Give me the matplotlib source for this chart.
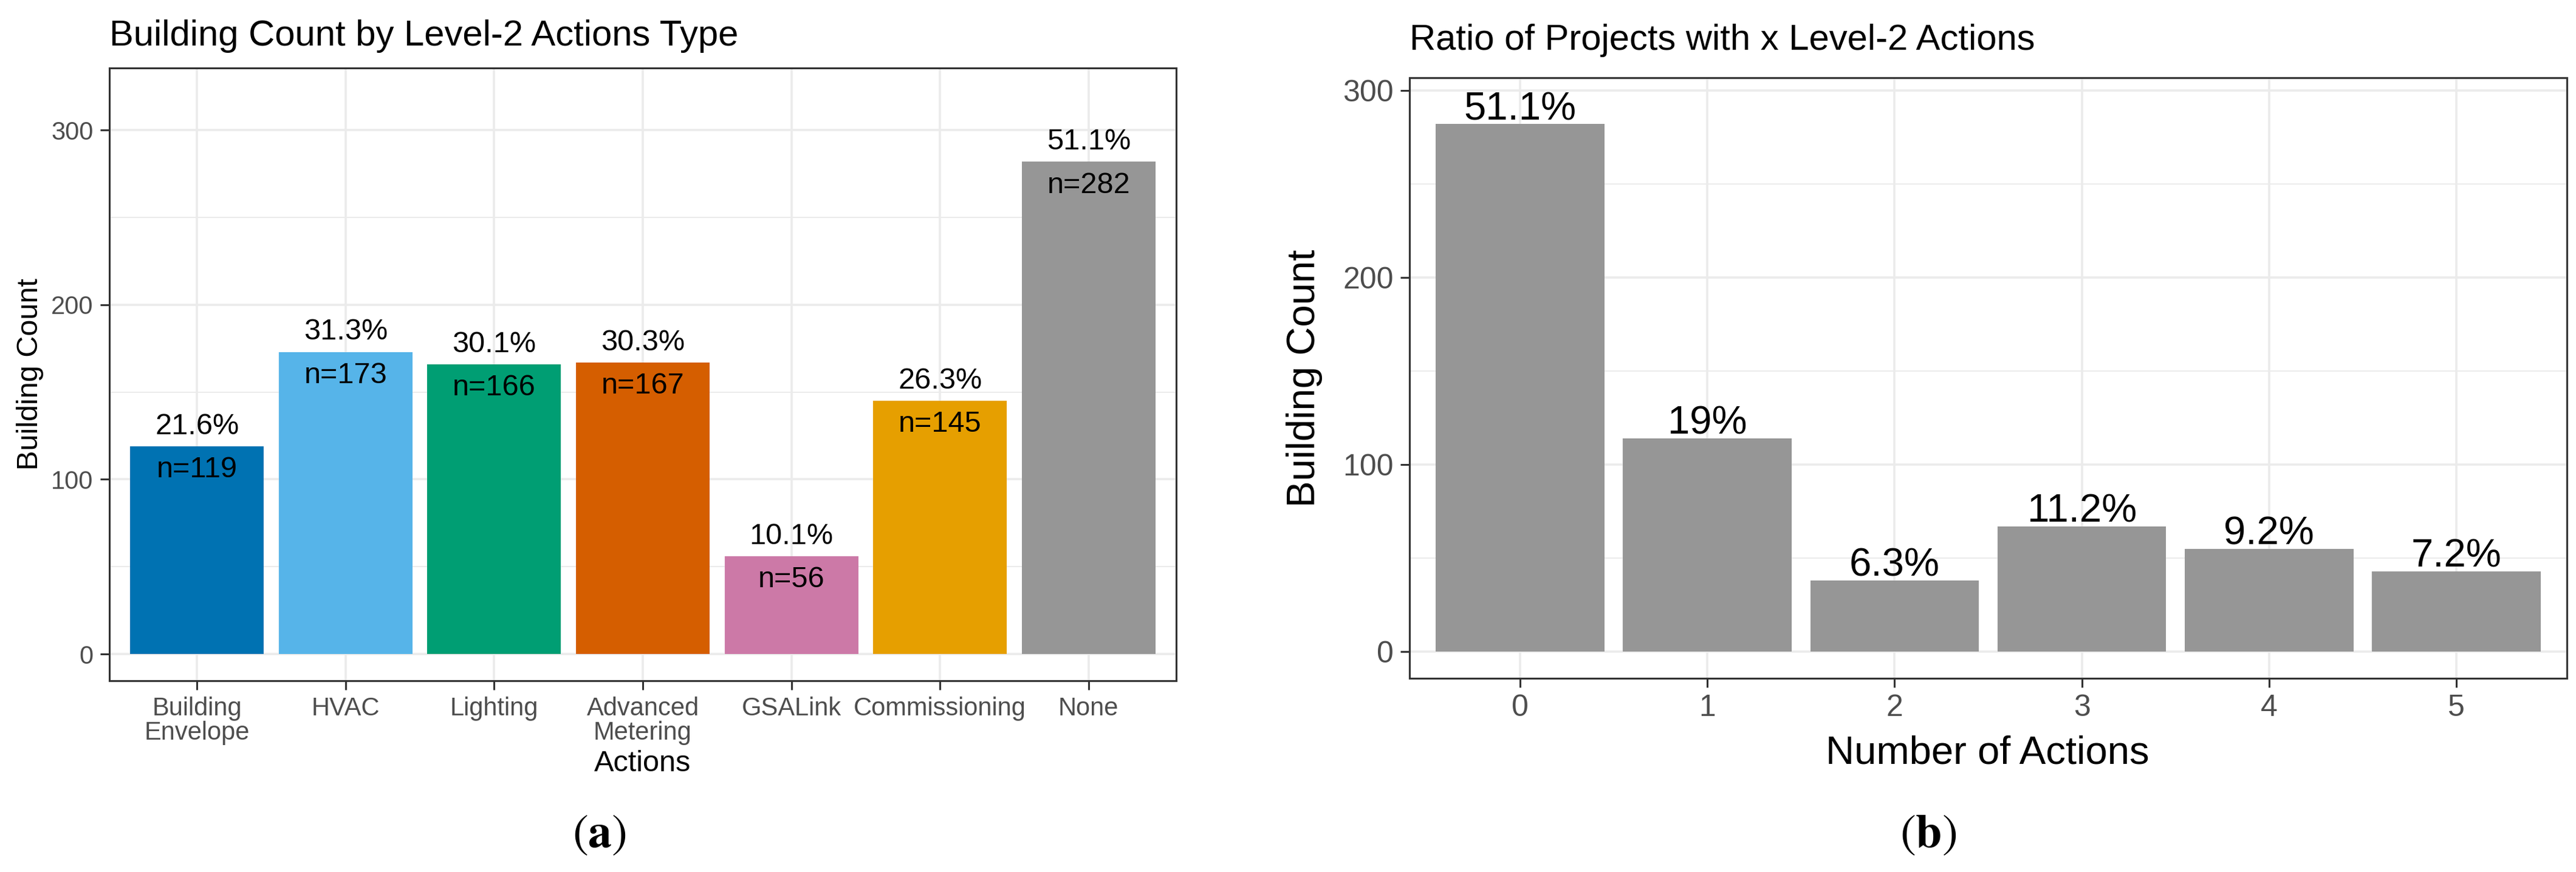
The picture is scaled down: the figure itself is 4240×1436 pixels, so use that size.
import numpy as np
import matplotlib.pyplot as plt
from matplotlib.ticker import MultipleLocator

# data panel (a)
actions = ["Building\nEnvelope", "HVAC", "Lighting", "Advanced\nMetering",
           "GSALink", "Commissioning", "None"]
action_counts = [119, 173, 166, 167, 56, 145, 282]
action_pcts = ["21.6%", "31.3%", "30.1%", "30.3%", "10.1%", "26.3%", "51.1%"]
action_colors = ["#0072B2", "#56B4E9", "#009E73", "#D55E00",
                 "#CC79A7", "#E69F00", "#969696"]

# data panel (b)
n_actions = ["0", "1", "2", "3", "4", "5"]
n_counts = [282, 114, 38, 67, 55, 43]
n_pcts = ["51.1%", "19%", "6.3%", "11.2%", "9.2%", "7.2%"]

plt.rcParams['font.family'] = ['Liberation Sans', 'DejaVu Sans']
plt.rcParams['mathtext.fontset'] = 'stix'

W, H = 4240, 1436
fig = plt.figure(figsize=(W / 100, H / 100), dpi=100)


def ggbw(ax, tick_size):
    ax.set_facecolor('white')
    for s in ax.spines.values():
        s.set_color('#333333')
        s.set_linewidth(2.2)
    ax.yaxis.set_major_locator(MultipleLocator(100))
    ax.yaxis.set_minor_locator(MultipleLocator(50))
    ax.grid(which='major', color='#EBEBEB', linewidth=2.6)
    ax.grid(which='minor', axis='y', color='#EBEBEB', linewidth=1.4)
    ax.tick_params(axis='both', which='major', length=11, width=2.2,
                   color='#333333', labelcolor='#4D4D4D',
                   labelsize=tick_size, pad=8)
    ax.tick_params(axis='y', which='minor', length=0)
    ax.set_axisbelow(True)


# ---- panel (a)
ax1 = fig.add_axes([180 / W, 1 - 1121 / H, (1936 - 180) / W, (1121 - 112) / H])
xa = np.arange(len(actions))
ax1.bar(xa, action_counts, width=0.9, color=action_colors, zorder=2)
ggbw(ax1, 30)
ax1.set_xticks(xa)
ax1.set_xticklabels(actions, linespacing=1.0)
ax1.set_xlim(-0.59, len(actions) - 1 + 0.59)
ax1.set_ylim(-15.3, 335.6)
for x, c, p in zip(xa, action_counts, action_pcts):
    ax1.annotate(p, (x, c), xytext=(0, 23.5), textcoords='offset points',
                 ha='center', va='center', fontsize=35, zorder=3)
    ax1.annotate("n=%d" % c, (x, c), xytext=(0, -28), textcoords='offset points',
                 ha='center', va='center', fontsize=35, zorder=3)

fig.text(180 / W, 1 - 75 / H, "Building Count by Level-2 Actions Type",
         fontsize=43, ha='left', va='baseline')
fig.text(50 / W, 1 - 616 / H, "Building Count", rotation=90,
         fontsize=35, ha='center', va='center')
fig.text(1058 / W, 1 - 1258 / H, "Actions", fontsize=35,
         ha='center', va='center')
fig.text(986 / W, 1 - 1377 / H, r"($\mathbf{a}$)", fontsize=56,
         family='STIXGeneral', ha='center', va='center')

# ---- panel (b)
ax2 = fig.add_axes([2320 / W, 1 - 1117 / H, (4225 - 2320) / W, (1117 - 128) / H])
xb = np.arange(len(n_actions))
ax2.bar(xb, n_counts, width=0.9, color='#969696', zorder=2)
ggbw(ax2, 36)
ax2.set_xticks(xb)
ax2.set_xticklabels(n_actions)
ax2.set_xlim(-0.59, len(n_actions) - 1 + 0.59)
ax2.set_ylim(-14.3, 306.8)
for x, c, p in zip(xb, n_counts, n_pcts):
    ax2.annotate(p, (x, c), xytext=(0, 5), textcoords='offset points',
                 ha='center', va='baseline', fontsize=47, zorder=3)

fig.text(2320 / W, 1 - 82 / H, "Ratio of Projects with x Level-2 Actions",
         fontsize=43, ha='left', va='baseline')
fig.text(2147 / W, 1 - 623 / H, "Building Count", rotation=90,
         fontsize=47, ha='center', va='center')
fig.text(3271 / W, 1 - 1241 / H, "Number of Actions", fontsize=47,
         ha='center', va='center')
fig.text(3174 / W, 1 - 1377 / H, r"($\mathbf{b}$)", fontsize=56,
         family='STIXGeneral', ha='center', va='center')

fig.savefig("out.png", dpi=100, facecolor='white')
